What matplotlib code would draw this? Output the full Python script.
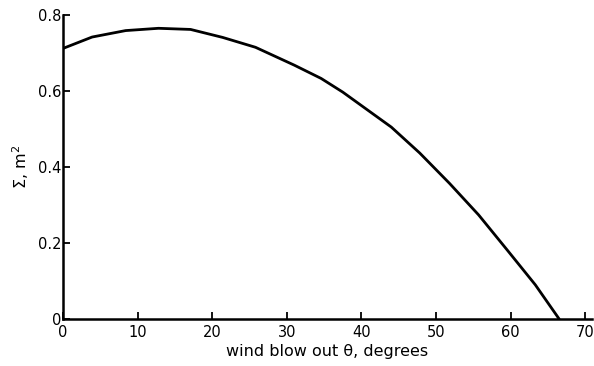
import matplotlib.pyplot as plt

# values (theta in degrees, sigma in m^2)
theta = [0, 3.9, 8.4, 12.8, 17.1, 21.4, 25.8, 31.0, 34.6, 37.5, 44.0, 47.8, 51.8, 55.7, 59.6, 63.3, 66.5]
sigma = [0.712, 0.742, 0.759, 0.765, 0.762, 0.741, 0.715, 0.668, 0.633, 0.597, 0.505, 0.437, 0.357, 0.274, 0.180, 0.090, 0.0]

x_ticks = [0, 10, 20, 30, 40, 50, 60, 70]
y_ticks = [0, 0.2, 0.4, 0.6, 0.8]
y_labels = ['0', '0.2', '0.4', '0.6', '0.8']

fig = plt.figure(figsize=(5.94, 3.66), dpi=100)
ax = fig.add_axes([63 / 594, 1 - 319 / 366, (592 - 63) / 594, (319 - 15) / 366])

ax.plot(theta, sigma, color='black', lw=2.0, solid_capstyle='round', solid_joinstyle='round')

ax.set_xlim(0, 70.9)
ax.set_ylim(0, 0.8)
ax.set_xticks(x_ticks)
ax.set_yticks(y_ticks)
ax.set_yticklabels(y_labels)
ax.tick_params(direction='in', length=5, width=1.3, labelsize=10.5)
ax.tick_params(axis='x', pad=4)
ax.tick_params(axis='y', pad=1)

for side in ['top', 'right']:
    ax.spines[side].set_visible(False)
for side in ['left', 'bottom']:
    ax.spines[side].set_linewidth(1.8)

ax.set_xlabel('wind blow out θ, degrees', fontsize=11.5, labelpad=3)
ax.set_ylabel('Σ, m$^2$', fontsize=11.5, labelpad=5)

fig.savefig('out.png', dpi=100)
